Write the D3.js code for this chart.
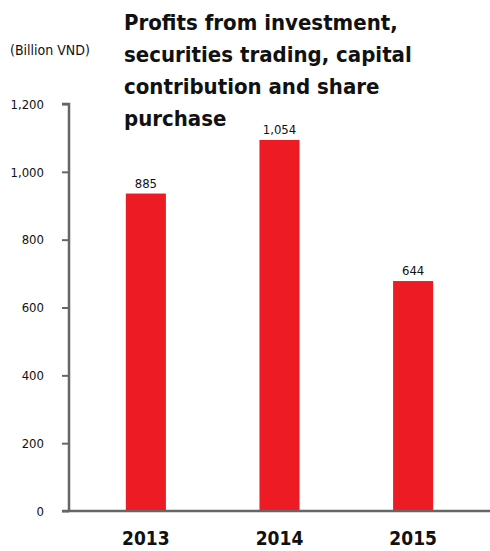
<!DOCTYPE html>
<html lang="en">
<head>
   <meta charset="UTF-8">
   <title>Profits from investment</title>
   <script src="https://cdn.jsdelivr.net/npm/d3@7"></script>
   <style>
      body { margin: 0; background: #fff; }
      text { font-family: "Liberation Sans Narrow", "DejaVu Sans Condensed", "Roboto", sans-serif; }
   </style>
</head>
<body>
   <svg width="490" height="551"></svg>
   <script>
       // data
       const years = ['2013', '2014', '2015'];
       const barValues = [936, 1094, 678];      // bar heights as drawn
       const valueLabels = ['885', '1,054', '644']; // printed labels
       const yTicks = [0, 200, 400, 600, 800, 1000, 1200];
       const titleLines = ['Profits from investment,', 'securities trading, capital', 'contribution and share', 'purchase'];

       const svg = d3.select('svg');
       const x0 = 69, yBottom = 511, yTop = 104;

       const y = d3.scaleLinear().domain([0, 1200]).range([yBottom, yTop]);
       const x = d3.scaleBand().domain(years).range([59, 500]).paddingInner(0.7).paddingOuter(0.5);

       // bars
       svg.append('g')
           .selectAll('rect')
           .data(years)
           .join('rect')
           .attr('x', d => x(d))
           .attr('width', x.bandwidth())
           .attr('y', (d, i) => y(barValues[i]))
           .attr('height', (d, i) => yBottom - y(barValues[i]))
           .attr('fill', '#ED1C24');

       // value labels
       svg.append('g')
           .selectAll('text')
           .data(years)
           .join('text')
           .attr('x', d => x(d) + x.bandwidth() / 2)
           .attr('y', (d, i) => y(barValues[i]) - 6)
           .attr('text-anchor', 'middle')
           .attr('font-size', 13)
           .attr('fill', '#111')
           .text((d, i) => valueLabels[i]);

       // y axis
       const yAxis = svg.append('g')
           .attr('transform', `translate(${x0},0)`)
           .call(d3.axisLeft(y).tickValues(yTicks).tickSize(7).tickFormat(d3.format(',')));
       yAxis.select('.domain').attr('stroke', '#666').attr('stroke-width', 2.5).attr('d', `M-7,${yTop}H0V${yBottom}`);
       yAxis.selectAll('.tick line').attr('stroke', '#666').attr('stroke-width', 2);
       yAxis.selectAll('.tick text')
           .attr('x', -25)
           .attr('font-size', 13)
           .attr('font-family', null)
           .attr('fill', '#111');

       // x axis baseline
       svg.append('line')
           .attr('x1', x0 - 7).attr('x2', 490)
           .attr('y1', yBottom).attr('y2', yBottom)
           .attr('stroke', '#666').attr('stroke-width', 2.5);

       // year labels
       svg.append('g')
           .selectAll('text')
           .data(years)
           .join('text')
           .attr('x', d => x(d) + x.bandwidth() / 2)
           .attr('y', 545)
           .attr('text-anchor', 'middle')
           .attr('font-size', 19)
           .attr('font-weight', 'bold')
           .attr('fill', '#111')
           .text(d => d);

       // unit
       svg.append('text')
           .attr('x', 10).attr('y', 55)
           .attr('font-size', 14)
           .attr('fill', '#111')
           .text('(Billion VND)');

       // title
       svg.append('text')
           .attr('x', 124).attr('y', 30)
           .attr('font-size', 22)
           .attr('font-weight', 'bold')
           .attr('fill', '#111')
           .selectAll('tspan')
           .data(titleLines)
           .join('tspan')
           .attr('x', 124)
           .attr('dy', (d, i) => i === 0 ? 0 : 32)
           .text(d => d);
   </script>
</body>
</html>
